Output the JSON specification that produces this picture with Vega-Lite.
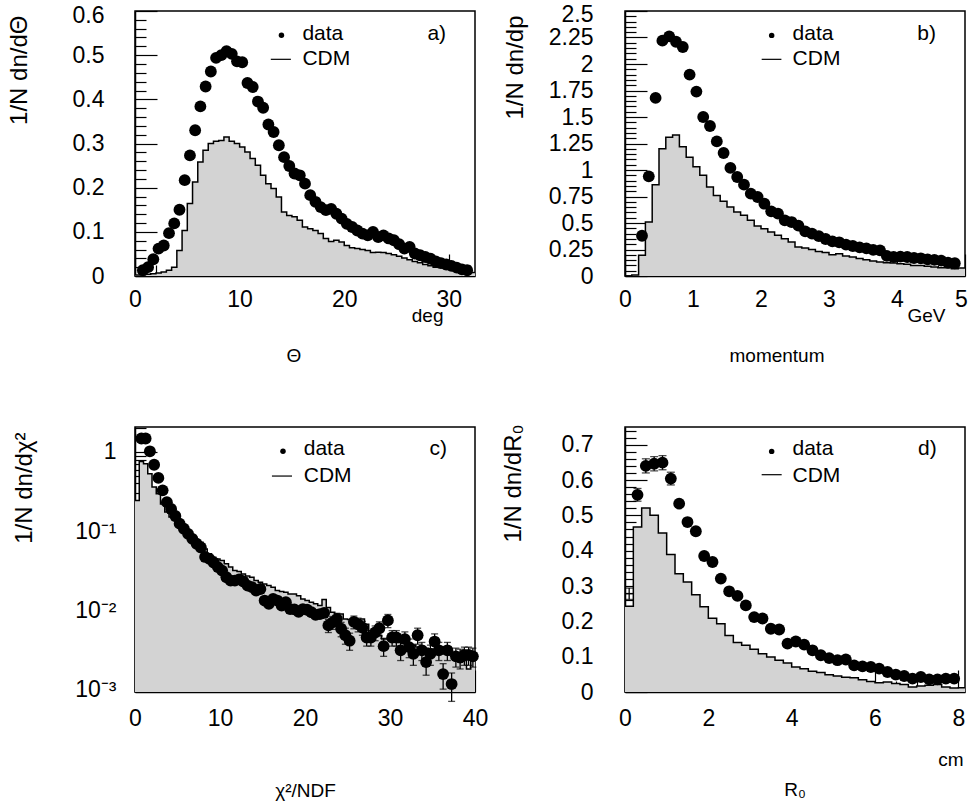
{
 "$schema": "https://vega.github.io/schema/vega-lite/v6.json",
 "background": "white",
 "padding": {"left": 6, "top": 2, "right": 0, "bottom": 0},
 "config": {
  "view": {"stroke": "black", "strokeWidth": 1.5},
  "axis": {"grid": false, "domain": true, "domainColor": "black", "domainWidth": 1.5, "tickColor": "black", "tickWidth": 1.2, "labelColor": "black", "labelFont": "Liberation Sans", "labelFontSize": 23, "labelOverlap": false, "labelFlush": false, "titleColor": "black", "titleFont": "Liberation Sans", "titleFontWeight": "normal", "titleFontSize": 19, "zindex": 1},
  "title": {"font": "Liberation Sans", "fontWeight": "normal", "color": "black", "fontSize": 19},
  "text": {"font": "Liberation Sans", "fontSize": 21, "color": "black"}
 },
 "datasets": {
  "histA": [
   {"x":0,"y":0.002},{"x":0.5,"y":0.003},{"x":1,"y":0.004},{"x":1.5,"y":0.005},{"x":2,"y":0.007},{"x":2.5,"y":0.009},{"x":3,"y":0.013},{"x":3.5,"y":0.02},{"x":4,"y":0.058},{"x":4.5,"y":0.103},{"x":5,"y":0.164},{"x":5.5,"y":0.213},{"x":6,"y":0.258},{"x":6.5,"y":0.285},{"x":7,"y":0.3},{"x":7.5,"y":0.305},{"x":8,"y":0.307},{"x":8.5,"y":0.315},{"x":9,"y":0.305},{"x":9.5,"y":0.3},{"x":10,"y":0.292},{"x":10.5,"y":0.281},{"x":11,"y":0.266},{"x":11.5,"y":0.251},{"x":12,"y":0.228},{"x":12.5,"y":0.209},{"x":13,"y":0.198},{"x":13.5,"y":0.179},{"x":14,"y":0.145},{"x":14.5,"y":0.137},{"x":15,"y":0.134},{"x":15.5,"y":0.126},{"x":16,"y":0.111},{"x":16.5,"y":0.107},{"x":17,"y":0.103},{"x":17.5,"y":0.096},{"x":18,"y":0.085},{"x":18.5,"y":0.078},{"x":19,"y":0.081},{"x":19.5,"y":0.077},{"x":20,"y":0.069},{"x":20.5,"y":0.064},{"x":21,"y":0.062},{"x":21.5,"y":0.06},{"x":22,"y":0.058},{"x":22.5,"y":0.053},{"x":23,"y":0.054},{"x":23.5,"y":0.053},{"x":24,"y":0.051},{"x":24.5,"y":0.048},{"x":25,"y":0.045},{"x":25.5,"y":0.041},{"x":26,"y":0.037},{"x":26.5,"y":0.033},{"x":27,"y":0.03},{"x":27.5,"y":0.026},{"x":28,"y":0.023},{"x":28.5,"y":0.02},{"x":29,"y":0.019},{"x":29.5,"y":0.017},{"x":30,"y":0.015},{"x":30.5,"y":0.014},{"x":31,"y":0.011},{"x":31.5,"y":0.01},{"x":32,"y":0.008},{"x":32.5,"y":0.008}
  ],
  "dataA": [
   {"x":0.75,"y":0.013},{"x":1.25,"y":0.02},{"x":1.75,"y":0.038},{"x":2.25,"y":0.062},{"x":2.75,"y":0.069},{"x":3.25,"y":0.097},{"x":3.75,"y":0.119},{"x":4.25,"y":0.15},{"x":4.75,"y":0.217},{"x":5.25,"y":0.273},{"x":5.75,"y":0.33},{"x":6.25,"y":0.384},{"x":6.75,"y":0.429},{"x":7.25,"y":0.463},{"x":7.75,"y":0.494},{"x":8.25,"y":0.5},{"x":8.75,"y":0.509},{"x":9.25,"y":0.503},{"x":9.75,"y":0.486},{"x":10.25,"y":0.484},{"x":10.75,"y":0.437},{"x":11.25,"y":0.428},{"x":11.75,"y":0.395},{"x":12.25,"y":0.381},{"x":12.75,"y":0.343},{"x":13.25,"y":0.326},{"x":13.75,"y":0.296},{"x":14.25,"y":0.269},{"x":14.75,"y":0.249},{"x":15.25,"y":0.232},{"x":15.75,"y":0.228},{"x":16.25,"y":0.209},{"x":16.75,"y":0.183},{"x":17.25,"y":0.168},{"x":17.75,"y":0.156},{"x":18.25,"y":0.149},{"x":18.75,"y":0.152},{"x":19.25,"y":0.141},{"x":19.75,"y":0.13},{"x":20.25,"y":0.118},{"x":20.75,"y":0.111},{"x":21.25,"y":0.103},{"x":21.75,"y":0.096},{"x":22.25,"y":0.092},{"x":22.75,"y":0.1},{"x":23.25,"y":0.088},{"x":23.75,"y":0.092},{"x":24.25,"y":0.085},{"x":24.75,"y":0.081},{"x":25.25,"y":0.072},{"x":25.75,"y":0.062},{"x":26.25,"y":0.066},{"x":26.75,"y":0.051},{"x":27.25,"y":0.047},{"x":27.75,"y":0.043},{"x":28.25,"y":0.039},{"x":28.75,"y":0.033},{"x":29.25,"y":0.029},{"x":29.75,"y":0.026},{"x":30.25,"y":0.023},{"x":30.75,"y":0.019},{"x":31.25,"y":0.015},{"x":31.75,"y":0.013}
  ],
  "histB": [
   {"x":0,"y":0},{"x":0.1,"y":0.01},{"x":0.2,"y":0.195},{"x":0.3,"y":0.509},{"x":0.4,"y":0.862},{"x":0.5,"y":1.2},{"x":0.6,"y":1.31},{"x":0.7,"y":1.33},{"x":0.8,"y":1.22},{"x":0.9,"y":1.12},{"x":1.0,"y":1.03},{"x":1.1,"y":0.95},{"x":1.2,"y":0.84},{"x":1.3,"y":0.76},{"x":1.4,"y":0.705},{"x":1.5,"y":0.651},{"x":1.6,"y":0.604},{"x":1.7,"y":0.572},{"x":1.8,"y":0.525},{"x":1.9,"y":0.472},{"x":2.0,"y":0.446},{"x":2.1,"y":0.415},{"x":2.2,"y":0.384},{"x":2.3,"y":0.352},{"x":2.4,"y":0.321},{"x":2.5,"y":0.274},{"x":2.6,"y":0.265},{"x":2.7,"y":0.25},{"x":2.8,"y":0.232},{"x":2.9,"y":0.222},{"x":3.0,"y":0.201},{"x":3.1,"y":0.21},{"x":3.2,"y":0.189},{"x":3.3,"y":0.179},{"x":3.4,"y":0.164},{"x":3.5,"y":0.154},{"x":3.6,"y":0.142},{"x":3.7,"y":0.132},{"x":3.8,"y":0.126},{"x":3.9,"y":0.123},{"x":4.0,"y":0.116},{"x":4.1,"y":0.11},{"x":4.2,"y":0.1},{"x":4.3,"y":0.1},{"x":4.4,"y":0.091},{"x":4.5,"y":0.085},{"x":4.6,"y":0.079},{"x":4.7,"y":0.079},{"x":4.8,"y":0.069},{"x":4.9,"y":0.075},{"x":5.0,"y":0.075}
  ],
  "dataB": [
   {"x":0.25,"y":0.38},{"x":0.35,"y":0.94},{"x":0.45,"y":1.68},{"x":0.55,"y":2.22},{"x":0.65,"y":2.26},{"x":0.75,"y":2.21},{"x":0.85,"y":2.16},{"x":0.95,"y":1.9},{"x":1.05,"y":1.74},{"x":1.15,"y":1.5},{"x":1.25,"y":1.415},{"x":1.35,"y":1.27},{"x":1.45,"y":1.16},{"x":1.55,"y":1.02},{"x":1.65,"y":0.934},{"x":1.75,"y":0.862},{"x":1.85,"y":0.777},{"x":1.95,"y":0.745},{"x":2.05,"y":0.682},{"x":2.15,"y":0.61},{"x":2.25,"y":0.588},{"x":2.35,"y":0.525},{"x":2.45,"y":0.509},{"x":2.55,"y":0.475},{"x":2.65,"y":0.421},{"x":2.75,"y":0.4},{"x":2.85,"y":0.376},{"x":2.95,"y":0.349},{"x":3.05,"y":0.327},{"x":3.15,"y":0.318},{"x":3.25,"y":0.296},{"x":3.35,"y":0.283},{"x":3.45,"y":0.27},{"x":3.55,"y":0.261},{"x":3.65,"y":0.247},{"x":3.75,"y":0.242},{"x":3.85,"y":0.19},{"x":3.95,"y":0.179},{"x":4.05,"y":0.183},{"x":4.15,"y":0.179},{"x":4.25,"y":0.17},{"x":4.35,"y":0.167},{"x":4.45,"y":0.157},{"x":4.55,"y":0.152},{"x":4.65,"y":0.145},{"x":4.75,"y":0.125},{"x":4.85,"y":0.12}
  ],
  "histC": [
   {"x":0,"y":0.244},{"x":0.5,"y":0.76},{"x":1,"y":0.71},{"x":1.5,"y":0.53},{"x":2,"y":0.36},{"x":2.5,"y":0.296},{"x":3,"y":0.22},{"x":3.5,"y":0.174},{"x":4,"y":0.15},{"x":4.5,"y":0.136},{"x":5,"y":0.118},{"x":5.5,"y":0.102},{"x":6,"y":0.092},{"x":6.5,"y":0.088},{"x":7,"y":0.076},{"x":7.5,"y":0.072},{"x":8,"y":0.0594},{"x":8.5,"y":0.0515},{"x":9,"y":0.0466},{"x":9.5,"y":0.0444},{"x":10,"y":0.0424},{"x":10.5,"y":0.0385},{"x":11,"y":0.035},{"x":11.5,"y":0.0316},{"x":12,"y":0.0307},{"x":12.5,"y":0.0286},{"x":13,"y":0.027},{"x":13.5,"y":0.026},{"x":14,"y":0.0236},{"x":14.5,"y":0.0225},{"x":15,"y":0.0214},{"x":15.5,"y":0.0204},{"x":16,"y":0.0195},{"x":16.5,"y":0.0177},{"x":17,"y":0.0172},{"x":17.5,"y":0.0168},{"x":18,"y":0.016},{"x":18.5,"y":0.016},{"x":19,"y":0.0152},{"x":19.5,"y":0.0138},{"x":20,"y":0.0132},{"x":20.5,"y":0.0126},{"x":21,"y":0.012},{"x":21.5,"y":0.0114},{"x":22,"y":0.0136},{"x":22.5,"y":0.0108},{"x":23,"y":0.0094},{"x":23.5,"y":0.0089},{"x":24,"y":0.0089},{"x":24.5,"y":0.0077},{"x":25,"y":0.0076},{"x":25.5,"y":0.0074},{"x":26,"y":0.0074},{"x":26.5,"y":0.0077},{"x":27,"y":0.0066},{"x":27.5,"y":0.0052},{"x":28,"y":0.0058},{"x":28.5,"y":0.0048},{"x":29,"y":0.0043},{"x":29.5,"y":0.0043},{"x":30,"y":0.0045},{"x":30.5,"y":0.0041},{"x":31,"y":0.0039},{"x":31.5,"y":0.004},{"x":32,"y":0.0037},{"x":32.5,"y":0.0036},{"x":33,"y":0.0034},{"x":33.5,"y":0.0035},{"x":34,"y":0.0033},{"x":34.5,"y":0.0031},{"x":35,"y":0.0032},{"x":35.5,"y":0.003},{"x":36,"y":0.0029},{"x":36.5,"y":0.0029},{"x":37,"y":0.0027},{"x":37.5,"y":0.0024},{"x":38,"y":0.0022},{"x":38.5,"y":0.0023},{"x":39,"y":0.0018},{"x":39.5,"y":0.0024},{"x":40,"y":0.0024}
  ],
  "dataC": [
   {"x":0.75,"y":1.48},{"x":1.25,"y":1.48},{"x":1.75,"y":1.02},{"x":2.25,"y":0.69},{"x":2.75,"y":0.47},{"x":3.25,"y":0.327},{"x":3.75,"y":0.232},{"x":4.25,"y":0.19},{"x":4.75,"y":0.155},{"x":5.25,"y":0.124},{"x":5.75,"y":0.107},{"x":6.25,"y":0.092},{"x":6.75,"y":0.0795},{"x":7.25,"y":0.069},{"x":7.75,"y":0.062},{"x":8.25,"y":0.047},{"x":8.75,"y":0.0445},{"x":9.25,"y":0.04},{"x":9.75,"y":0.035},{"x":10.25,"y":0.0316},{"x":10.75,"y":0.026},{"x":11.25,"y":0.0236},{"x":11.75,"y":0.0236},{"x":12.25,"y":0.0245},{"x":12.75,"y":0.023},{"x":13.25,"y":0.0204},{"x":13.75,"y":0.0195},{"x":14.25,"y":0.0177},{"x":14.75,"y":0.0185},{"x":15.25,"y":0.0132},{"x":15.75,"y":0.012},{"x":16.25,"y":0.0138},{"x":16.75,"y":0.0132},{"x":17.25,"y":0.0114},{"x":17.75,"y":0.0126},{"x":18.25,"y":0.0103},{"x":18.75,"y":0.0102},{"x":19.25,"y":0.0095},{"x":19.75,"y":0.0103},{"x":20.25,"y":0.0101},{"x":20.75,"y":0.0094},{"x":21.25,"y":0.0087},{"x":21.75,"y":0.0089},{"x":22.25,"y":0.0092},
   {"x":22.75,"y":0.0064,"lo":0.0052,"hi":0.0076},{"x":23.25,"y":0.007,"lo":0.0057,"hi":0.0083},{"x":23.75,"y":0.0077,"lo":0.0063,"hi":0.0091},{"x":24.25,"y":0.0058,"lo":0.0046,"hi":0.007},{"x":24.75,"y":0.0048,"lo":0.0037,"hi":0.0059},{"x":25.25,"y":0.0041,"lo":0.0031,"hi":0.0051},{"x":25.75,"y":0.0071,"lo":0.0058,"hi":0.0084},{"x":26.25,"y":0.0066,"lo":0.0053,"hi":0.0079},{"x":26.75,"y":0.006,"lo":0.0048,"hi":0.0072},{"x":27.25,"y":0.0045,"lo":0.0035,"hi":0.0055},{"x":27.75,"y":0.0045,"lo":0.0035,"hi":0.0055},{"x":28.25,"y":0.0052,"lo":0.0041,"hi":0.0063},{"x":28.75,"y":0.0059,"lo":0.0047,"hi":0.0071},{"x":29.25,"y":0.0035,"lo":0.0026,"hi":0.0044},{"x":29.75,"y":0.0074,"lo":0.006,"hi":0.0088},{"x":30.25,"y":0.0045,"lo":0.0035,"hi":0.0055},{"x":30.75,"y":0.0045,"lo":0.0035,"hi":0.0055},{"x":31.25,"y":0.0031,"lo":0.0023,"hi":0.0039},{"x":31.75,"y":0.0043,"lo":0.0033,"hi":0.0053},{"x":32.25,"y":0.0034,"lo":0.0025,"hi":0.0043},{"x":32.75,"y":0.0028,"lo":0.002,"hi":0.0036},{"x":33.25,"y":0.0048,"lo":0.0037,"hi":0.0059},{"x":33.75,"y":0.0031,"lo":0.0023,"hi":0.0039},{"x":34.25,"y":0.0022,"lo":0.0015,"hi":0.0029},{"x":34.75,"y":0.0028,"lo":0.002,"hi":0.0036},{"x":35.25,"y":0.004,"lo":0.003,"hi":0.005},{"x":35.75,"y":0.0031,"lo":0.0023,"hi":0.0039},{"x":36.25,"y":0.00155,"lo":0.001,"hi":0.0021},{"x":36.75,"y":0.0031,"lo":0.0023,"hi":0.0039},{"x":37.25,"y":0.00116,"lo":0.0007,"hi":0.0016},{"x":37.75,"y":0.0026,"lo":0.0019,"hi":0.0033},{"x":38.25,"y":0.0025,"lo":0.0018,"hi":0.0032},{"x":38.75,"y":0.0027,"lo":0.002,"hi":0.0034},{"x":39.25,"y":0.0027,"lo":0.002,"hi":0.0034},{"x":39.75,"y":0.0026,"lo":0.0019,"hi":0.0033}
  ],
  "histD": [
   {"x":0,"y":0.243},{"x":0.2,"y":0.467},{"x":0.4,"y":0.521},{"x":0.6,"y":0.5},{"x":0.8,"y":0.45},{"x":1.0,"y":0.389},{"x":1.2,"y":0.335},{"x":1.4,"y":0.311},{"x":1.6,"y":0.275},{"x":1.8,"y":0.241},{"x":2.0,"y":0.209},{"x":2.2,"y":0.193},{"x":2.4,"y":0.16},{"x":2.6,"y":0.14},{"x":2.8,"y":0.132},{"x":3.0,"y":0.121},{"x":3.2,"y":0.108},{"x":3.4,"y":0.099},{"x":3.6,"y":0.09},{"x":3.8,"y":0.082},{"x":4.0,"y":0.071},{"x":4.2,"y":0.066},{"x":4.4,"y":0.059},{"x":4.6,"y":0.055},{"x":4.8,"y":0.049},{"x":5.0,"y":0.045},{"x":5.2,"y":0.042},{"x":5.4,"y":0.04},{"x":5.6,"y":0.035},{"x":5.8,"y":0.03},{"x":6.0,"y":0.026},{"x":6.2,"y":0.028},{"x":6.4,"y":0.024},{"x":6.6,"y":0.021},{"x":6.8,"y":0.014},{"x":7.0,"y":0.017},{"x":7.2,"y":0.019},{"x":7.4,"y":0.021},{"x":7.6,"y":0.014},{"x":7.8,"y":0.011},{"x":8.0,"y":0.012},{"x":8.16,"y":0.012}
  ],
  "dataD": [
   {"x":0.1,"y":0.278,"lo":0.262,"hi":0.294,"kind":"plus"},
   {"x":0.3,"y":0.558,"lo":0.54,"hi":0.576,"kind":"dot"},{"x":0.5,"y":0.64,"lo":0.62,"hi":0.66,"kind":"dot"},{"x":0.7,"y":0.646,"lo":0.626,"hi":0.666,"kind":"dot"},{"x":0.9,"y":0.649,"lo":0.629,"hi":0.669,"kind":"dot"},{"x":1.1,"y":0.604,"lo":0.586,"hi":0.622,"kind":"dot"},
   {"x":1.3,"y":0.533,"kind":"dot"},{"x":1.5,"y":0.481,"kind":"dot"},{"x":1.7,"y":0.455,"kind":"dot"},{"x":1.9,"y":0.385,"kind":"dot"},{"x":2.1,"y":0.368,"kind":"dot"},{"x":2.3,"y":0.321,"kind":"dot"},{"x":2.5,"y":0.285,"kind":"dot"},{"x":2.7,"y":0.272,"kind":"dot"},{"x":2.9,"y":0.245,"kind":"dot"},{"x":3.1,"y":0.212,"kind":"dot"},{"x":3.3,"y":0.208,"kind":"dot"},{"x":3.5,"y":0.179,"kind":"dot"},{"x":3.7,"y":0.177,"kind":"dot"},{"x":3.9,"y":0.137,"kind":"dot"},{"x":4.1,"y":0.143,"kind":"dot"},{"x":4.3,"y":0.134,"kind":"dot"},{"x":4.5,"y":0.118,"kind":"dot"},{"x":4.7,"y":0.104,"kind":"dot"},{"x":4.9,"y":0.096,"kind":"dot"},{"x":5.1,"y":0.09,"kind":"dot"},{"x":5.3,"y":0.092,"kind":"dot"},{"x":5.5,"y":0.0755,"kind":"dot"},{"x":5.7,"y":0.0727,"kind":"dot"},{"x":5.9,"y":0.0708,"kind":"dot"},{"x":6.1,"y":0.066,"kind":"dot"},{"x":6.3,"y":0.0566,"kind":"dot"},{"x":6.5,"y":0.049,"kind":"dot"},{"x":6.7,"y":0.0453,"kind":"dot"},{"x":6.9,"y":0.0377,"kind":"dot"},{"x":7.1,"y":0.0425,"kind":"dot"},{"x":7.3,"y":0.0358,"kind":"dot"},{"x":7.5,"y":0.0358,"kind":"dot"},{"x":7.7,"y":0.0377,"kind":"dot"},{"x":7.9,"y":0.0377,"kind":"dot"}
  ]
 },
 "columns": 2,
 "spacing": {"row": 151, "column": 150},
 "bounds": "flush",
 "concat": [
  {
   "width": 340, "height": 265,
   "title": {"text": "Θ", "orient": "bottom", "anchor": "middle", "offset": 22, "dx": -11},
   "layer": [
    {"data": {"name": "histA"}, "mark": {"type": "area", "interpolate": "step-after", "color": "#d3d3d3"},
     "encoding": {
      "x": {"field": "x", "type": "quantitative", "scale": {"domain": [0, 32.5], "nice": false, "zero": false},
       "axis": {"values": [0,2,4,6,8,10,12,14,16,18,20,22,24,26,28,30,32], "tickCount": 1000, "labelOverlap": false, "labelFlush": false, "labelBound": false,
        "labelExpr": "datum.value % 10 === 0 ? format(datum.value, 'd') : ''",
        "tickSize": {"condition": {"test": "datum.value % 10 === 0", "value": -22}, "value": -11},
        "labelPadding": 34,
        "title": "deg", "titleX": 308, "titleY": 45, "titleAlign": "right", "titleBaseline": "alphabetic"}},
      "y": {"field": "y", "type": "quantitative", "stack": null, "scale": {"domain": [0, 0.6], "nice": false},
       "axis": {"values": [0,0.02,0.04,0.06,0.08,0.1,0.12,0.14,0.16,0.18,0.2,0.22,0.24,0.26,0.28,0.3,0.32,0.34,0.36,0.38,0.4,0.42,0.44,0.46,0.48,0.5,0.52,0.54,0.56,0.58,0.6], "tickCount": 1000, "labelOverlap": false, "labelFlush": false, "labelBound": false,
        "labelExpr": "abs(datum.value*10-round(datum.value*10)) < 1e-6 ? format(datum.value, '.1~f') : ''",
        "tickSize": {"condition": {"test": "abs(datum.value*10-round(datum.value*10)) < 1e-6", "value": -22}, "value": -11},
        "labelPadding": 53,
        "labelOffset": {"condition": {"test": "datum.value > 0.59", "value": 4}, "value": 0},
        "title": "1/N dn/dΘ", "titleFontSize": 24, "titleAngle": -90, "titleX": -116, "titleY": 4, "titleAlign": "right", "titleBaseline": "middle"}}
     }},
    {"data": {"name": "histA"}, "mark": {"type": "line", "interpolate": "step-after", "color": "black", "strokeWidth": 1.5},
     "encoding": {"x": {"field": "x", "type": "quantitative"}, "y": {"field": "y", "type": "quantitative"}}},
    {"data": {"name": "dataA"}, "mark": {"type": "circle", "color": "black", "size": 140, "opacity": 1},
     "encoding": {"x": {"field": "x", "type": "quantitative"}, "y": {"field": "y", "type": "quantitative"}}},
    {"data": {"values": [{}]}, "mark": {"type": "circle", "color": "black", "size": 30, "opacity": 1},
     "encoding": {"x": {"datum": 14.0}, "y": {"datum": 0.545}}},
    {"data": {"values": [{}]}, "mark": {"type": "rule", "color": "black", "strokeWidth": 1.2},
     "encoding": {"x": {"datum": 12.98}, "x2": {"datum": 14.9}, "y": {"datum": 0.4906}}},
    {"data": {"values": [{}]}, "mark": {"type": "text", "text": "data", "align": "left", "baseline": "alphabetic", "fontSize": 21},
     "encoding": {"x": {"datum": 16.0}, "y": {"datum": 0.535}}},
    {"data": {"values": [{}]}, "mark": {"type": "text", "text": "CDM", "align": "left", "baseline": "alphabetic", "fontSize": 21},
     "encoding": {"x": {"datum": 16.0}, "y": {"datum": 0.477}}},
    {"data": {"values": [{}]}, "mark": {"type": "text", "text": "a)", "align": "right", "baseline": "alphabetic", "fontSize": 21},
     "encoding": {"x": {"datum": 29.74}, "y": {"datum": 0.535}}}
   ]
  },
  {
   "width": 340, "height": 265,
   "title": {"text": "momentum", "orient": "bottom", "anchor": "middle", "offset": 22, "dx": -18},
   "layer": [
    {"data": {"name": "histB"}, "mark": {"type": "area", "interpolate": "step-after", "color": "#d3d3d3"},
     "encoding": {
      "x": {"field": "x", "type": "quantitative", "scale": {"domain": [0, 5], "nice": false, "zero": false},
       "axis": {"values": [0,0.2,0.4,0.6,0.8,1,1.2,1.4,1.6,1.8,2,2.2,2.4,2.6,2.8,3,3.2,3.4,3.6,3.8,4,4.2,4.4,4.6,4.8,5], "tickCount": 1000, "labelOverlap": false, "labelFlush": false, "labelBound": false,
        "labelExpr": "abs(datum.value-round(datum.value)) < 1e-6 ? format(datum.value, 'd') : ''",
        "tickSize": {"condition": {"test": "abs(datum.value-round(datum.value)) < 1e-6", "value": -22}, "value": -11},
        "labelPadding": 34,
        "labelOffset": {"condition": {"test": "datum.value > 4.99", "value": -4}, "value": 0},
        "title": "GeV", "titleX": 320, "titleY": 45, "titleAlign": "right", "titleBaseline": "alphabetic"}},
      "y": {"field": "y", "type": "quantitative", "stack": null, "scale": {"domain": [0, 2.5], "nice": false},
       "axis": {"values": [0,0.05,0.1,0.15,0.2,0.25,0.3,0.35,0.4,0.45,0.5,0.55,0.6,0.65,0.7,0.75,0.8,0.85,0.9,0.95,1,1.05,1.1,1.15,1.2,1.25,1.3,1.35,1.4,1.45,1.5,1.55,1.6,1.65,1.7,1.75,1.8,1.85,1.9,1.95,2,2.05,2.1,2.15,2.2,2.25,2.3,2.35,2.4,2.45,2.5], "tickCount": 1000, "labelOverlap": false, "labelFlush": false, "labelBound": false,
        "labelExpr": "abs(datum.value*4-round(datum.value*4)) < 1e-6 ? format(datum.value, '~g') : ''",
        "tickSize": {"condition": {"test": "abs(datum.value*4-round(datum.value*4)) < 1e-6", "value": -22}, "value": -11},
        "labelPadding": 54,
        "labelOffset": {"condition": {"test": "datum.value > 2.49", "value": 3}, "value": 0},
        "title": "1/N dn/dp", "titleFontSize": 24, "titleAngle": -90, "titleX": -110, "titleY": 4, "titleAlign": "right", "titleBaseline": "middle"}}
     }},
    {"data": {"name": "histB"}, "mark": {"type": "line", "interpolate": "step-after", "color": "black", "strokeWidth": 1.5},
     "encoding": {"x": {"field": "x", "type": "quantitative"}, "y": {"field": "y", "type": "quantitative"}}},
    {"data": {"name": "dataB"}, "mark": {"type": "circle", "color": "black", "size": 140, "opacity": 1},
     "encoding": {"x": {"field": "x", "type": "quantitative"}, "y": {"field": "y", "type": "quantitative"}}},
    {"data": {"values": [{}]}, "mark": {"type": "circle", "color": "black", "size": 30, "opacity": 1},
     "encoding": {"x": {"datum": 2.157}, "y": {"datum": 2.27}}},
    {"data": {"values": [{}]}, "mark": {"type": "rule", "color": "black", "strokeWidth": 1.2},
     "encoding": {"x": {"datum": 2.01}, "x2": {"datum": 2.3}, "y": {"datum": 2.044}}},
    {"data": {"values": [{}]}, "mark": {"type": "text", "text": "data", "align": "left", "baseline": "alphabetic", "fontSize": 21},
     "encoding": {"x": {"datum": 2.464}, "y": {"datum": 2.231}}},
    {"data": {"values": [{}]}, "mark": {"type": "text", "text": "CDM", "align": "left", "baseline": "alphabetic", "fontSize": 21},
     "encoding": {"x": {"datum": 2.464}, "y": {"datum": 1.988}}},
    {"data": {"values": [{}]}, "mark": {"type": "text", "text": "b)", "align": "right", "baseline": "alphabetic", "fontSize": 21},
     "encoding": {"x": {"datum": 4.572}, "y": {"datum": 2.231}}}
   ]
  },
  {
   "width": 340, "height": 265,
   "layer": [
    {"data": {"name": "histC"}, "mark": {"type": "area", "interpolate": "step-after", "color": "#d3d3d3"},
     "encoding": {
      "x": {"field": "x", "type": "quantitative", "scale": {"domain": [0, 40], "nice": false, "zero": false},
       "axis": {"values": [0,2,4,6,8,10,12,14,16,18,20,22,24,26,28,30,32,34,36,38,40], "tickCount": 1000, "labelOverlap": false, "labelFlush": false, "labelBound": false,
        "labelExpr": "datum.value % 10 === 0 ? format(datum.value, 'd') : ''",
        "tickSize": {"condition": {"test": "datum.value % 10 === 0", "value": -22}, "value": -11},
        "labelPadding": 37,
        "title": "χ²/NDF", "titleX": 170, "titleY": 104, "titleAlign": "center", "titleBaseline": "alphabetic"}},
      "y": {"field": "y", "type": "quantitative", "scale": {"type": "log", "domain": [0.00092, 2.07], "nice": false},
       "axis": {"values": [0.001,0.002,0.003,0.004,0.005,0.006,0.007,0.008,0.009,0.01,0.02,0.03,0.04,0.05,0.06,0.07,0.08,0.09,0.1,0.2,0.3,0.4,0.5,0.6,0.7,0.8,0.9,1,2], "tickCount": 1000, "labelOverlap": false, "labelFlush": false, "labelBound": false,
        "labelExpr": "datum.value == 1 ? '1' : datum.value == 0.1 ? '10⁻¹' : datum.value == 0.01 ? '10⁻²' : datum.value == 0.001 ? '10⁻³' : ''",
        "tickSize": {"condition": {"test": "datum.value == 1 || datum.value == 0.1 || datum.value == 0.01 || datum.value == 0.001", "value": -22}, "value": -11},
        "labelPadding": 41,
        "title": "1/N dn/dχ²", "titleFontSize": 24, "titleAngle": -90, "titleX": -111, "titleY": 5, "titleAlign": "right", "titleBaseline": "middle"}},
      "y2": {"datum": 0.00092}
     }},
    {"data": {"name": "histC"}, "mark": {"type": "line", "interpolate": "step-after", "color": "black", "strokeWidth": 1.5},
     "encoding": {"x": {"field": "x", "type": "quantitative"}, "y": {"field": "y", "type": "quantitative"}}},
    {"data": {"name": "dataC"}, "transform": [{"filter": "isValid(datum.lo)"}],
     "mark": {"type": "errorbar", "color": "black", "thickness": 1.3, "ticks": {"size": 7, "thickness": 1.3, "color": "black"}},
     "encoding": {"x": {"field": "x", "type": "quantitative", "title": "χ²/NDF"}, "y": {"field": "lo", "type": "quantitative", "title": "1/N dn/dχ²"}, "y2": {"field": "hi"}}},
    {"data": {"name": "dataC"}, "mark": {"type": "circle", "color": "black", "size": 140, "opacity": 1},
     "encoding": {"x": {"field": "x", "type": "quantitative"}, "y": {"field": "y", "type": "quantitative"}}},
    {"data": {"values": [{}]}, "mark": {"type": "circle", "color": "black", "size": 30, "opacity": 1},
     "encoding": {"x": {"datum": 17.41}, "y": {"datum": 1.02}}},
    {"data": {"values": [{}]}, "mark": {"type": "rule", "color": "black", "strokeWidth": 1.2},
     "encoding": {"x": {"datum": 16.11}, "x2": {"datum": 18.47}, "y": {"datum": 0.496}}},
    {"data": {"values": [{}]}, "mark": {"type": "text", "text": "data", "align": "left", "baseline": "alphabetic", "fontSize": 21},
     "encoding": {"x": {"datum": 19.85}, "y": {"datum": 0.925}}},
    {"data": {"values": [{}]}, "mark": {"type": "text", "text": "CDM", "align": "left", "baseline": "alphabetic", "fontSize": 21},
     "encoding": {"x": {"datum": 19.85}, "y": {"datum": 0.417}}},
    {"data": {"values": [{}]}, "mark": {"type": "text", "text": "c)", "align": "right", "baseline": "alphabetic", "fontSize": 21},
     "encoding": {"x": {"datum": 36.7}, "y": {"datum": 0.925}}}
   ]
  },
  {
   "width": 340, "height": 265,
   "title": {"text": "R₀", "orient": "bottom", "anchor": "middle", "offset": 12, "dx": 0},
   "layer": [
    {"data": {"name": "histD"}, "mark": {"type": "area", "interpolate": "step-after", "color": "#d3d3d3"},
     "encoding": {
      "x": {"field": "x", "type": "quantitative", "scale": {"domain": [0, 8.16], "nice": false, "zero": false},
       "axis": {"values": [0,0.5,1,1.5,2,2.5,3,3.5,4,4.5,5,5.5,6,6.5,7,7.5,8], "tickCount": 1000, "labelOverlap": false, "labelFlush": false, "labelBound": false,
        "labelExpr": "datum.value % 2 === 0 ? format(datum.value, 'd') : ''",
        "tickSize": {"condition": {"test": "datum.value % 2 === 0", "value": -22}, "value": -11},
        "labelPadding": 37,
        "title": "cm", "titleX": 338, "titleY": 73, "titleAlign": "right", "titleBaseline": "alphabetic"}},
      "y": {"field": "y", "type": "quantitative", "stack": null, "scale": {"domain": [0, 0.75], "nice": false},
       "axis": {"values": [0,0.02,0.04,0.06,0.08,0.1,0.12,0.14,0.16,0.18,0.2,0.22,0.24,0.26,0.28,0.3,0.32,0.34,0.36,0.38,0.4,0.42,0.44,0.46,0.48,0.5,0.52,0.54,0.56,0.58,0.6,0.62,0.64,0.66,0.68,0.7,0.72,0.74], "tickCount": 1000, "labelOverlap": false, "labelFlush": false, "labelBound": false,
        "labelExpr": "abs(datum.value*10-round(datum.value*10)) < 1e-6 ? format(datum.value, '.1~f') : ''",
        "tickSize": {"condition": {"test": "abs(datum.value*10-round(datum.value*10)) < 1e-6", "value": -22}, "value": -11},
        "labelPadding": 54,
        "title": "1/N dn/dR₀", "titleFontSize": 24, "titleAngle": -90, "titleX": -112, "titleY": -3, "titleAlign": "right", "titleBaseline": "middle"}}
     }},
    {"data": {"name": "histD"}, "mark": {"type": "line", "interpolate": "step-after", "color": "black", "strokeWidth": 1.5},
     "encoding": {"x": {"field": "x", "type": "quantitative"}, "y": {"field": "y", "type": "quantitative"}}},
    {"data": {"name": "dataD"}, "transform": [{"filter": "isValid(datum.lo)"}],
     "mark": {"type": "errorbar", "color": "black", "thickness": 1.3, "ticks": {"size": 8, "thickness": 1.3, "color": "black"}},
     "encoding": {"x": {"field": "x", "type": "quantitative", "title": "cm"}, "y": {"field": "lo", "type": "quantitative", "title": "1/N dn/dR₀"}, "y2": {"field": "hi"}}},
    {"data": {"name": "dataD"}, "transform": [{"filter": "datum.kind === 'dot'"}], "mark": {"type": "circle", "color": "black", "size": 140, "opacity": 1},
     "encoding": {"x": {"field": "x", "type": "quantitative"}, "y": {"field": "y", "type": "quantitative"}}},
    {"data": {"name": "dataD"}, "transform": [{"filter": "datum.kind === 'plus'"}], "mark": {"type": "point", "shape": "M-1,0L1,0", "filled": false, "stroke": "black", "strokeWidth": 1.2, "size": 64, "opacity": 1},
     "encoding": {"x": {"field": "x", "type": "quantitative"}, "y": {"field": "y", "type": "quantitative"}}},
    {"data": {"values": [{}]}, "mark": {"type": "circle", "color": "black", "size": 30, "opacity": 1},
     "encoding": {"x": {"datum": 3.52}, "y": {"datum": 0.681}}},
    {"data": {"values": [{}]}, "mark": {"type": "rule", "color": "black", "strokeWidth": 1.2},
     "encoding": {"x": {"datum": 3.28}, "x2": {"datum": 3.76}, "y": {"datum": 0.615}}},
    {"data": {"values": [{}]}, "mark": {"type": "text", "text": "data", "align": "left", "baseline": "alphabetic", "fontSize": 21},
     "encoding": {"x": {"datum": 4.02}, "y": {"datum": 0.67}}},
    {"data": {"values": [{}]}, "mark": {"type": "text", "text": "CDM", "align": "left", "baseline": "alphabetic", "fontSize": 21},
     "encoding": {"x": {"datum": 4.02}, "y": {"datum": 0.594}}},
    {"data": {"values": [{}]}, "mark": {"type": "text", "text": "d)", "align": "right", "baseline": "alphabetic", "fontSize": 21},
     "encoding": {"x": {"datum": 7.48}, "y": {"datum": 0.67}}}
   ]
  }
 ]
}
